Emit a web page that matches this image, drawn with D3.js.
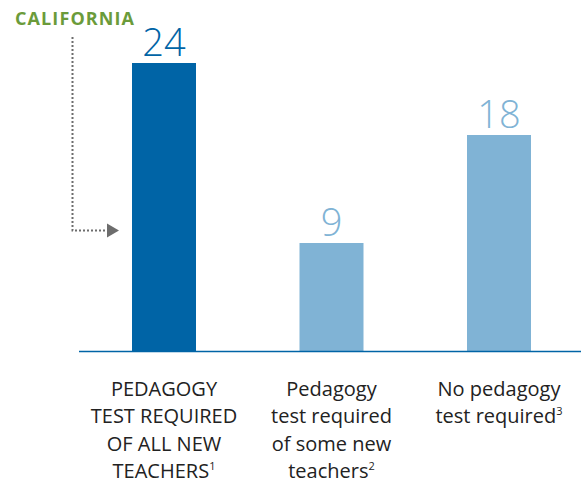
<!DOCTYPE html>
<html><head><meta charset="utf-8">
<script src="https://cdn.jsdelivr.net/npm/d3@7"></script>
<style>body{margin:0;background:#fff}svg{display:block}</style>
</head><body>
<svg id="c" width="581" height="487"></svg>
<script>
const categories = ["all", "some", "none"];
const values = [24, 9, 18];
const labelLines = [
  [["PEDAGOGY",""],["TEST REQUIRED",""],["OF ALL NEW",""],["TEACHERS","1"]],
  [["Pedagogy",""],["test required",""],["of some new",""],["teachers","2"]],
  [["No pedagogy",""],["test required","3"]]
];
const colors = ["#0064A6", "#80B3D5", "#80B3D5"];
const highlightLabel = "CALIFORNIA";

const svg = d3.select("#c");
const xs = d3.scalePoint().domain(categories).range([164, 499]);
const y = d3.scaleLinear().domain([0, 24]).range([351, 63]);
const bw = 64;

svg.selectAll("rect.bar").data(values).join("rect")
  .attr("class","bar")
  .attr("x",(d,i)=>xs(categories[i]) - bw/2)
  .attr("y",d=>y(d))
  .attr("width",bw)
  .attr("height",d=>y(0)-y(d))
  .attr("fill",(d,i)=>colors[i]);

svg.append("line").attr("x1",79).attr("x2",581).attr("y1",351.5).attr("y2",351.5)
  .attr("stroke","#0064A6").attr("stroke-width",1.5);

svg.selectAll("text.val").data(values).join("text")
  .attr("class","val")
  .attr("x",(d,i)=>xs(categories[i]))
  .attr("y",d=>y(d)-7)
  .attr("text-anchor","middle")
  .attr("font-family","'Open Sans', sans-serif")
  .attr("font-weight",300)
  .attr("font-size",38)
  .attr("fill",(d,i)=>colors[i])
  .text(d=>d);

labelLines.forEach((lines,i)=>{
  const t = svg.append("text")
    .attr("text-anchor","middle")
    .attr("font-family","'Open Sans', sans-serif")
    .attr("font-size",20)
    .attr("fill","#222");
  lines.forEach((ln,j)=>{
    t.append("tspan").attr("x",xs(categories[i])).attr("y",396 + j*27.3).text(ln[0]);
    if (ln[1]) t.append("tspan").attr("font-size",11).attr("dy",-8).text(ln[1]);
  });
});

// California annotation
svg.append("text").attr("x",15).attr("y",25)
  .attr("font-family","'Open Sans', sans-serif").attr("font-weight",700)
  .attr("font-size",18).attr("letter-spacing",1.1).attr("fill","#6B9B3A").text(highlightLabel);

const arrowY = y(24) + 167;
svg.append("path")
  .attr("d",`M72.5,37 V${arrowY+0.5} H108`)
  .attr("fill","none").attr("stroke","#6d6d6d").attr("stroke-width",2)
  .attr("stroke-dasharray","2,2");
svg.append("path")
  .attr("d",`M107,${arrowY-6.5} L119,${arrowY+0.5} L107,${arrowY+7.5} Z`)
  .attr("fill","#6d6d6d");
</script>
</body></html>
